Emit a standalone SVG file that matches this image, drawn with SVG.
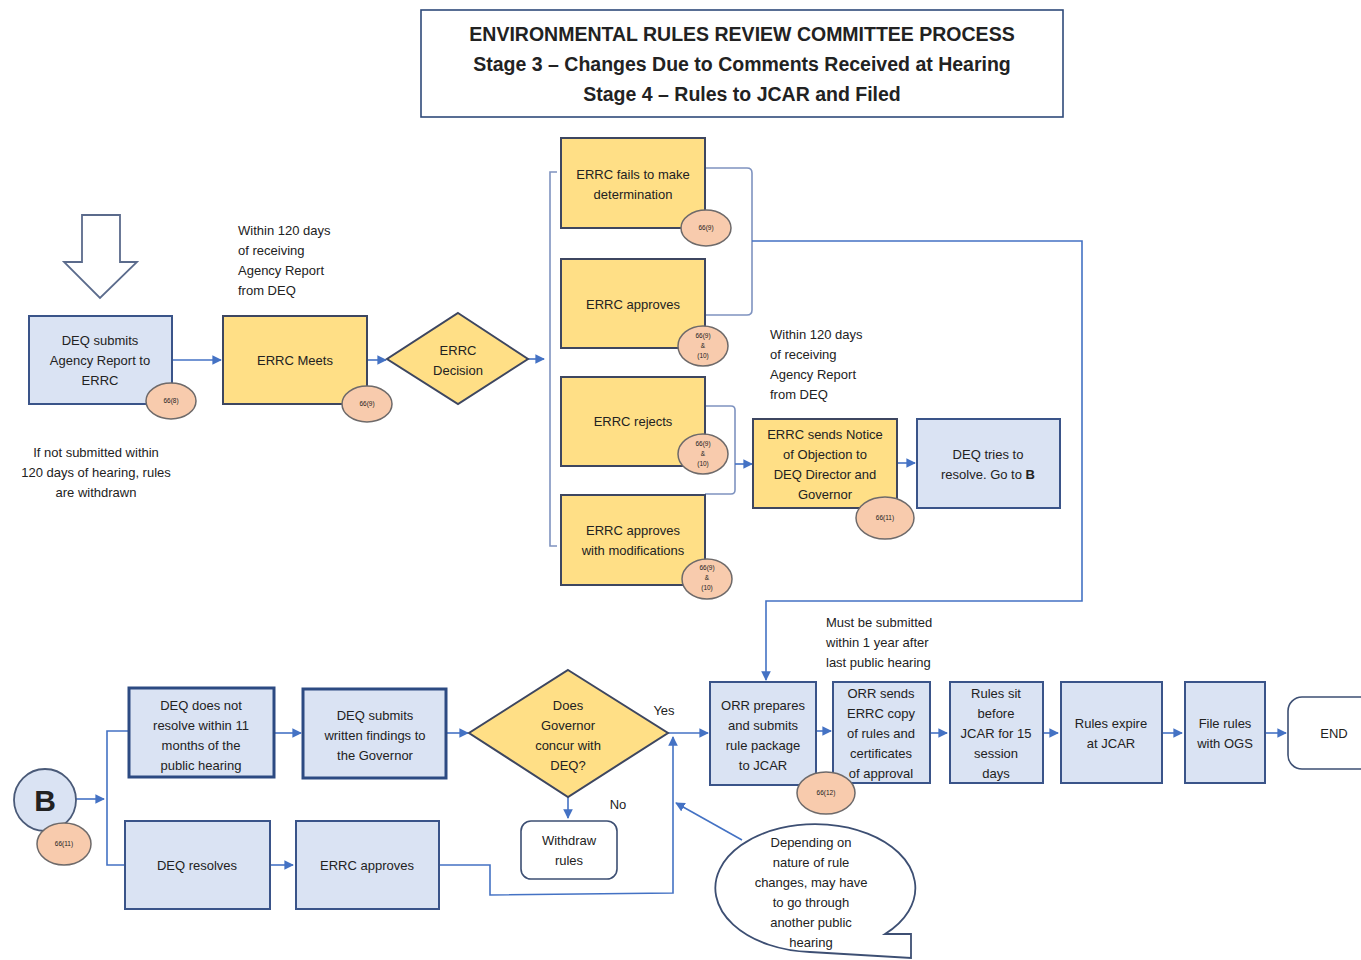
<svg xmlns="http://www.w3.org/2000/svg" width="1361" height="960" viewBox="0 0 1361 960">
<defs>
<marker id="ah" viewBox="0 0 10 10" refX="9" refY="5" markerWidth="6" markerHeight="6" orient="auto"><path d="M0,0 L10,5 L0,10 z" fill="#4472c4"/></marker>
<style>
text{font-family:"Liberation Sans",Arial,sans-serif;font-size:13px;fill:#222;text-anchor:middle}
.lt{text-anchor:start}
.ttl{font-size:19.5px;font-weight:bold}
.big{font-size:30px;font-weight:bold}
.blue{fill:#dae3f3;stroke:#3a5489;stroke-width:2}
.blue2{fill:#dae3f3;stroke:#2c4a82;stroke-width:3}
.yel{fill:#ffdf86;stroke:#3d4660;stroke-width:2}
.ref{fill:#f8cbad;stroke:#6e6a6a;stroke-width:1.5}
.rt{font-size:6.5px}
.cn{fill:none;stroke:#4472c4;stroke-width:1.6}
.ar{fill:none;stroke:#4472c4;stroke-width:1.6;marker-end:url(#ah)}
.br{fill:none;stroke:#7f93c0;stroke-width:1.6}
.wh{fill:#fff;stroke:#3d4f73;stroke-width:1.6}
</style>
</defs>
<rect width="1361" height="960" fill="#fff"/>

<g id="title">
<rect x="421" y="10" width="642" height="107" fill="#fff" stroke="#2f4a7a" stroke-width="1.6"/>
<text class="ttl" x="742" y="41">ENVIRONMENTAL RULES REVIEW COMMITTEE PROCESS</text>
<text class="ttl" x="742" y="71">Stage 3 – Changes Due to Comments Received at Hearing</text>
<text class="ttl" x="742" y="101">Stage 4 – Rules to JCAR and Filed</text>
</g>

<g id="start-arrow">
<path d="M82,215 H120 V262 H137 L100,298 L64,262 H82 Z" fill="#fff" stroke="#5b6b8c" stroke-width="1.8"/>
</g>

<g id="connectors">
<path class="ar" d="M172,360 H221"/>
<path class="ar" d="M367,360 H386"/>
<path class="ar" d="M528,359 H544"/>
<path class="br" d="M557,172 H550 V546 H557"/>
<path class="br" d="M705,168 H747 Q752,168 752,173 V310 Q752,315 747,315 H705"/>
<path class="ar" d="M752,241 H1082 V601 H766 V680"/>
<path class="br" d="M705,406 H731 Q735,406 735,410 V490 Q735,494 731,494 H705"/>
<path class="ar" d="M735,464 H752"/>
<path class="ar" d="M897,463 H915"/>
<path class="ar" d="M76,799 H104"/>
<path class="cn" d="M128,731 H107 V865 H125"/>
<path class="ar" d="M274,733 H301"/>
<path class="ar" d="M446,733 H468"/>
<path class="ar" d="M668,733 H708"/>
<path class="ar" d="M568,797 V818"/>
<path class="ar" d="M270,865 H293"/>
<path class="ar" d="M439,865 H490 V895 L673,893 V737"/>
<path class="ar" d="M742,840 L676,803"/>
<path class="ar" d="M816,731 H831"/>
<path class="ar" d="M930,733 H947"/>
<path class="ar" d="M1043,733 H1058"/>
<path class="ar" d="M1162,733 H1182"/>
<path class="ar" d="M1265,733 H1286"/>
</g>

<g id="deq-submits">
<rect class="blue" x="29" y="316" width="143" height="88"/>
<text x="100" y="345">DEQ submits</text>
<text x="100" y="365">Agency Report to</text>
<text x="100" y="385">ERRC</text>
<ellipse class="ref" cx="171" cy="401" rx="25" ry="18"/>
<text class="rt" x="171" y="403">66(8)</text>
</g>

<g id="note-not-submitted">
<text x="96" y="457">If not submitted within</text>
<text x="96" y="477">120 days of hearing, rules</text>
<text x="96" y="497">are withdrawn</text>
</g>

<g id="note-within-1">
<text class="lt" x="238" y="235">Within 120 days</text>
<text class="lt" x="238" y="255">of receiving</text>
<text class="lt" x="238" y="275">Agency Report</text>
<text class="lt" x="238" y="295">from DEQ</text>
</g>

<g id="errc-meets">
<rect class="yel" x="223" y="316" width="144" height="88"/>
<text x="295" y="365">ERRC Meets</text>
<ellipse class="ref" cx="367" cy="404" rx="25" ry="18"/>
<text class="rt" x="367" y="406">66(9)</text>
</g>

<g id="errc-decision">
<path class="yel" d="M458,313 L528,359 L458,404 L387,359 Z"/>
<text x="458" y="355">ERRC</text>
<text x="458" y="375">Decision</text>
</g>

<g id="errc-fails">
<rect class="yel" x="561" y="138" width="144" height="90"/>
<text x="633" y="179">ERRC fails to make</text>
<text x="633" y="199">determination</text>
<ellipse class="ref" cx="706" cy="228" rx="25" ry="18"/>
<text class="rt" x="706" y="230">66(9)</text>
</g>

<g id="errc-approves-1">
<rect class="yel" x="561" y="259" width="144" height="89"/>
<text x="633" y="309">ERRC approves</text>
<ellipse class="ref" cx="703" cy="346" rx="25" ry="20"/>
<text class="rt" x="703" y="338">66(9)</text>
<text class="rt" x="703" y="348">&amp;</text>
<text class="rt" x="703" y="358">(10)</text>
</g>

<g id="errc-rejects">
<rect class="yel" x="561" y="377" width="144" height="89"/>
<text x="633" y="426">ERRC rejects</text>
<ellipse class="ref" cx="703" cy="454" rx="25" ry="20"/>
<text class="rt" x="703" y="446">66(9)</text>
<text class="rt" x="703" y="456">&amp;</text>
<text class="rt" x="703" y="466">(10)</text>
</g>

<g id="errc-approves-mod">
<rect class="yel" x="561" y="495" width="144" height="90"/>
<text x="633" y="535">ERRC approves</text>
<text x="633" y="555">with modifications</text>
<ellipse class="ref" cx="707" cy="579" rx="25" ry="20"/>
<text class="rt" x="707" y="570">66(9)</text>
<text class="rt" x="707" y="580">&amp;</text>
<text class="rt" x="707" y="590">(10)</text>
</g>

<g id="note-within-2">
<text class="lt" x="770" y="339">Within 120 days</text>
<text class="lt" x="770" y="359">of receiving</text>
<text class="lt" x="770" y="379">Agency Report</text>
<text class="lt" x="770" y="399">from DEQ</text>
</g>

<g id="errc-notice">
<rect class="yel" x="753" y="419" width="144" height="89"/>
<text x="825" y="439">ERRC sends Notice</text>
<text x="825" y="459">of Objection to</text>
<text x="825" y="479">DEQ Director and</text>
<text x="825" y="499">Governor</text>
<ellipse class="ref" cx="885" cy="518" rx="29" ry="21"/>
<text class="rt" x="885" y="520">66(11)</text>
</g>

<g id="deq-tries">
<rect class="blue" x="917" y="419" width="143" height="89"/>
<text x="988" y="459">DEQ tries to</text>
<text x="988" y="479">resolve. Go to <tspan font-weight="bold">B</tspan></text>
</g>

<g id="b-node">
<circle cx="45" cy="800" r="31" fill="#dae3f3" stroke="#4a5a78" stroke-width="1.8"/>
<text class="big" x="45" y="811">B</text>
<ellipse class="ref" cx="64" cy="844" rx="27" ry="21"/>
<text class="rt" x="64" y="846">66(11)</text>
</g>

<g id="deq-not-resolve">
<rect class="blue2" x="129" y="688" width="145" height="89"/>
<text x="201" y="710">DEQ does not</text>
<text x="201" y="730">resolve within 11</text>
<text x="201" y="750">months of the</text>
<text x="201" y="770">public hearing</text>
</g>

<g id="deq-findings">
<rect class="blue2" x="303" y="689" width="143" height="89"/>
<text x="375" y="720">DEQ submits</text>
<text x="375" y="740">written findings to</text>
<text x="375" y="760">the Governor</text>
</g>

<g id="governor-decision">
<path class="yel" d="M568,670 L668,733 L568,797 L469,733 Z"/>
<text x="568" y="710">Does</text>
<text x="568" y="730">Governor</text>
<text x="568" y="750">concur with</text>
<text x="568" y="770">DEQ?</text>
<text x="664" y="715">Yes</text>
<text x="618" y="809">No</text>
</g>

<g id="withdraw">
<rect class="wh" x="521" y="821" width="96" height="58" rx="10"/>
<text x="569" y="845">Withdraw</text>
<text x="569" y="865">rules</text>
</g>

<g id="deq-resolves">
<rect class="blue" x="125" y="821" width="145" height="88"/>
<text x="197" y="870">DEQ resolves</text>
</g>

<g id="errc-approves-2">
<rect class="blue" x="296" y="821" width="143" height="88"/>
<text x="367" y="870">ERRC approves</text>
</g>

<g id="callout">
<path d="M885,934 A100,64 0 1 0 810,952 L911,958 V934 Z" fill="#fff" stroke="#3d4f73" stroke-width="1.8"/>
<text x="811" y="847">Depending on</text>
<text x="811" y="867">nature of rule</text>
<text x="811" y="887">changes, may have</text>
<text x="811" y="907">to go through</text>
<text x="811" y="927">another public</text>
<text x="811" y="947">hearing</text>
</g>

<g id="note-1-year">
<text class="lt" x="826" y="627">Must be submitted</text>
<text class="lt" x="826" y="647">within 1 year after</text>
<text class="lt" x="826" y="667">last public hearing</text>
</g>

<g id="orr-prepares">
<rect class="blue" x="710" y="682" width="106" height="103"/>
<text x="763" y="710">ORR prepares</text>
<text x="763" y="730">and submits</text>
<text x="763" y="750">rule package</text>
<text x="763" y="770">to JCAR</text>
</g>

<g id="orr-sends">
<rect class="blue" x="833" y="682" width="97" height="101"/>
<text x="881" y="698">ORR sends</text>
<text x="881" y="718">ERRC copy</text>
<text x="881" y="738">of rules and</text>
<text x="881" y="758">certificates</text>
<text x="881" y="778">of approval</text>
</g>

<g id="ref-66-12">
<ellipse class="ref" cx="826" cy="793" rx="29" ry="21"/>
<text class="rt" x="826" y="795">66(12)</text>
</g>

<g id="rules-sit">
<rect class="blue" x="950" y="682" width="93" height="101"/>
<text x="996" y="698">Rules sit</text>
<text x="996" y="718">before</text>
<text x="996" y="738">JCAR for 15</text>
<text x="996" y="758">session</text>
<text x="996" y="778">days</text>
</g>

<g id="rules-expire">
<rect class="blue" x="1061" y="682" width="101" height="101"/>
<text x="1111" y="728">Rules expire</text>
<text x="1111" y="748">at JCAR</text>
</g>

<g id="file-rules">
<rect class="blue" x="1185" y="682" width="80" height="101"/>
<text x="1225" y="728">File rules</text>
<text x="1225" y="748">with OGS</text>
</g>

<g id="end">
<rect class="wh" x="1288" y="697" width="90" height="72" rx="14"/>
<text x="1334" y="738">END</text>
</g>
</svg>
